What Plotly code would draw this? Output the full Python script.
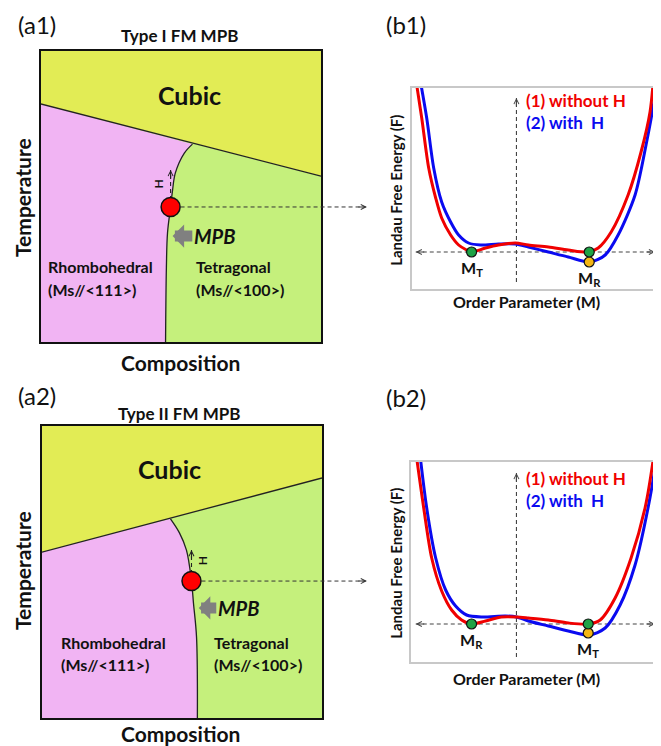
import plotly.graph_objects as go

# The page body has an 8px margin, so the figure is sized to fill the rest of the window
OX, OY = 8, 8
WIN_W, WIN_H = 661, 746
W, H = WIN_W - OX, WIN_H - OY
FONT = "Lato"

# ---------------- data (normalized composition / temperature units) ----------------
# Panel a1 (Type I)
a1_cubic_x = [0.0, 1.0]
a1_cubic_y = [0.818, 0.570]
a1_mpb_x = [0.541, 0.512, 0.480, 0.470, 0.463, 0.452, 0.448, 0.445]
a1_mpb_y = [0.680, 0.649, 0.581, 0.522, 0.464, 0.375, 0.258, 0.0]
a1_point = (0.463, 0.464)
a1_h_top = 0.591

# Panel a2 (Type II)
a2_cubic_x = [0.0, 1.0]
a2_cubic_y = [0.568, 0.822]
a2_mpb_x = [0.459, 0.491, 0.516, 0.534, 0.541, 0.552, 0.555]
a2_mpb_y = [0.682, 0.634, 0.575, 0.469, 0.394, 0.277, 0.0]
a2_point = (0.534, 0.469)
a2_h_top = 0.575

# Panel b1 free energy curves (order parameter M, free energy F)
b1_red_M = [-1.02, -0.95, -0.88, -0.81, -0.75, -0.66, -0.58, -0.50, -0.45, -0.31, -0.18, -0.01,
            0.12, 0.32, 0.52, 0.72, 0.82, 0.95, 1.12, 1.25, 1.34, 1.38]
b1_red_F = [1.80, 1.34, 0.84, 0.54, 0.34, 0.17, 0.07, 0.02, 0.0, 0.04, 0.07, 0.09,
            0.07, 0.05, 0.02, 0.0, 0.04, 0.20, 0.57, 1.00, 1.40, 1.80]
b1_blue_M = [-0.98, -0.90, -0.83, -0.75, -0.66, -0.58, -0.48, -0.36, -0.18, -0.01,
             0.12, 0.32, 0.52, 0.74, 0.89, 1.02, 1.19, 1.30, 1.39, 1.41]
b1_blue_F = [1.80, 1.34, 0.84, 0.50, 0.30, 0.17, 0.09, 0.07, 0.08, 0.08,
             0.05, 0.0, -0.05, -0.10, -0.03, 0.17, 0.57, 1.07, 1.57, 1.80]
b1_green_M = [-0.45, 0.73]
b1_green_F = [0.0, 0.0]
b1_yellow_M = [0.73]
b1_yellow_F = [-0.10]
b1_min_labels = ["M<sub>T</sub>", "M<sub>R</sub>"]

# Panel b2
b2_red_M = [-1.02, -0.93, -0.85, -0.75, -0.65, -0.55, -0.45, -0.31, -0.15, 0.0,
            0.12, 0.32, 0.52, 0.72, 0.84, 0.99, 1.15, 1.29, 1.37, 1.39]
b2_red_F = [1.80, 1.16, 0.66, 0.33, 0.14, 0.04, 0.0, 0.03, 0.07, 0.07,
            0.06, 0.04, 0.01, 0.0, 0.04, 0.26, 0.66, 1.16, 1.63, 1.80]
b2_blue_M = [-0.98, -0.90, -0.81, -0.71, -0.61, -0.50, -0.35, -0.11, 0.0,
             0.12, 0.32, 0.52, 0.73, 0.89, 1.04, 1.19, 1.32, 1.40, 1.42]
b2_blue_F = [1.80, 1.16, 0.66, 0.34, 0.18, 0.09, 0.07, 0.08, 0.07,
             0.03, -0.02, -0.07, -0.11, -0.04, 0.19, 0.59, 1.16, 1.63, 1.80]
b2_green_M = [-0.45, 0.72]
b2_green_F = [0.0, 0.0]
b2_yellow_M = [0.72]
b2_yellow_F = [-0.09]
b2_min_labels = ["M<sub>R</sub>", "M<sub>T</sub>"]

# ---------------- styling ----------------
C_CUBIC = "#E2EC55"
C_RHOMB = "#F1B4F3"
C_TETRA = "#C5F07C"
C_RED = "#F00000"
C_BLUE = "#0A0AF0"
C_GREEN = "#1FA245"
C_YELLOW = "#F4B514"
DASH = "4px,3px"
DASH_COLOR = "#444444"


def pdom(p0, p1, horizontal=True):
    if horizontal:
        return [(p0 - OX) / W, min(1.0, (p1 - OX) / W)]
    return [1 - (p1 - OY) / H, 1 - (p0 - OY) / H]


def P(px, py):
    return (px - OX) / W, 1 - (py - OY) / H


def d2p(v, rng, dom):
    return dom[0] + (v - rng[0]) / (rng[1] - rng[0]) * (dom[1] - dom[0])


A1 = dict(dx=pdom(41, 322), dy=pdom(51, 342, False), rx=[0, 1], ry=[0, 1])
A2 = dict(dx=pdom(42, 323), dy=pdom(426, 718, False), rx=[0, 1], ry=[0, 1])
B1 = dict(dx=pdom(413, 661), dy=pdom(88, 289, False), rx=[-1.05, 1.43], ry=[-0.37, 1.64])
B2 = dict(dx=pdom(412, 661), dy=pdom(462, 662, False), rx=[-1.06, 1.43], ry=[-0.38, 1.62])

fig = go.Figure()
annotations = []
shapes = []


def phase_panel(xa, ya, cub_x, cub_y, mpb_x, mpb_y, point, h_top, dom):
    # tetragonal (lower region), then rhombohedral over it, then cubic
    fig.add_trace(go.Scatter(x=[cub_x[0], cub_x[0], cub_x[1], cub_x[1]],
                             y=[0, cub_y[0], cub_y[1], 0], fill="toself",
                             fillcolor=C_TETRA, line=dict(width=0), mode="lines",
                             xaxis=xa, yaxis=ya, hoverinfo="skip"))
    fig.add_trace(go.Scatter(x=[cub_x[0], cub_x[0]] + mpb_x, y=[0, cub_y[0]] + mpb_y,
                             fill="toself", fillcolor=C_RHOMB, line=dict(width=0),
                             mode="lines", xaxis=xa, yaxis=ya, hoverinfo="skip"))
    fig.add_trace(go.Scatter(x=[cub_x[0], cub_x[1], cub_x[1], cub_x[0]],
                             y=[cub_y[0], cub_y[1], 1, 1], fill="toself",
                             fillcolor=C_CUBIC, line=dict(width=0), mode="lines",
                             xaxis=xa, yaxis=ya, hoverinfo="skip"))
    fig.add_trace(go.Scatter(x=cub_x, y=cub_y, mode="lines",
                             line=dict(color="#222", width=1.3), xaxis=xa, yaxis=ya))
    fig.add_trace(go.Scatter(x=mpb_x, y=mpb_y, mode="lines",
                             line=dict(color="#222", width=1.3, shape="spline"),
                             xaxis=xa, yaxis=ya))
    # H field arrow (dashed)
    fig.add_trace(go.Scatter(x=[point[0], point[0]], y=[point[1], h_top], mode="lines",
                             line=dict(color="#222", width=1.1, dash=DASH),
                             xaxis=xa, yaxis=ya))
    fig.add_trace(go.Scatter(x=[point[0]], y=[point[1]], mode="markers",
                             marker=dict(size=19, color="#FF0000",
                                         line=dict(color="#111", width=1.5)),
                             xaxis=xa, yaxis=ya))
    annotations.append(dict(x=point[0], y=h_top, xref=xa, yref=ya, ax=0, ay=10,
                            text="", showarrow=True, arrowhead=5, arrowsize=0.9,
                            arrowwidth=1.1, arrowcolor="#222", standoff=0))
    # connector to free-energy panel
    cx = d2p(point[0], dom["rx"], dom["dx"])
    cy = d2p(point[1], dom["ry"], dom["dy"])
    tip_x = (368 - OX) / W
    shapes.append(dict(type="line", xref="paper", yref="paper", x0=cx + 10 / W,
                       x1=tip_x - 1 / W, y0=cy, y1=cy,
                       line=dict(color="#333", width=1, dash=DASH)))
    annotations.append(dict(x=tip_x, y=cy, xref="paper", yref="paper", ax=-10, ay=0,
                            text="", showarrow=True, arrowhead=5, arrowsize=0.9,
                            arrowwidth=1.1, arrowcolor="#333", standoff=0))


def energy_panel(xa, ya, red_M, red_F, blue_M, blue_F, g_M, g_F, y_M, y_F, labels,
                 dom, vbot, vtop, hleft, hright):
    fig.add_trace(go.Scatter(x=[0, 0], y=[vbot, vtop], mode="lines",
                             line=dict(color=DASH_COLOR, width=1.1, dash=DASH),
                             xaxis=xa, yaxis=ya))
    fig.add_trace(go.Scatter(x=[hleft, hright], y=[0, 0], mode="lines",
                             line=dict(color=DASH_COLOR, width=1.1, dash=DASH),
                             xaxis=xa, yaxis=ya))
    fig.add_trace(go.Scatter(x=blue_M, y=blue_F, mode="lines",
                             line=dict(color=C_BLUE, width=3, shape="spline",
                                       smoothing=0.8),
                             xaxis=xa, yaxis=ya))
    fig.add_trace(go.Scatter(x=red_M, y=red_F, mode="lines",
                             line=dict(color=C_RED, width=3, shape="spline",
                                       smoothing=0.8),
                             xaxis=xa, yaxis=ya))
    fig.add_trace(go.Scatter(x=y_M, y=y_F, mode="markers",
                             marker=dict(size=10, color=C_YELLOW,
                                         line=dict(color="#111", width=1.2)),
                             xaxis=xa, yaxis=ya))
    fig.add_trace(go.Scatter(x=g_M, y=g_F, mode="markers",
                             marker=dict(size=10, color=C_GREEN,
                                         line=dict(color="#111", width=1.2)),
                             xaxis=xa, yaxis=ya))
    for ax_, ay_, xx, yy in [(0, 10, 0, vtop), (-10, 0, hright, 0), (10, 0, hleft, 0)]:
        annotations.append(dict(x=xx, y=yy, xref=xa, yref=ya, ax=ax_, ay=ay_, text="",
                                showarrow=True, arrowhead=5, arrowsize=0.9,
                                arrowwidth=1.1, arrowcolor=DASH_COLOR, standoff=0))
    # minimum labels
    annotations.append(dict(x=g_M[0], y=g_F[0], xref=xa, yref=ya, yshift=-16,
                            text="<b>" + labels[0] + "</b>", showarrow=False,
                            font=dict(size=16, color="#111", family=FONT)))
    annotations.append(dict(x=y_M[0], y=y_F[0], xref=xa, yref=ya, yshift=-16,
                            text="<b>" + labels[1] + "</b>", showarrow=False,
                            font=dict(size=16, color="#111", family=FONT)))


phase_panel("x", "y", a1_cubic_x, a1_cubic_y, a1_mpb_x, a1_mpb_y, a1_point, a1_h_top, A1)
energy_panel("x2", "y2", b1_red_M, b1_red_F, b1_blue_M, b1_blue_F, b1_green_M,
             b1_green_F, b1_yellow_M, b1_yellow_F, b1_min_labels, B1,
             -0.30, 1.54, -1.01, 1.39)
phase_panel("x3", "y3", a2_cubic_x, a2_cubic_y, a2_mpb_x, a2_mpb_y, a2_point, a2_h_top, A2)
energy_panel("x4", "y4", b2_red_M, b2_red_F, b2_blue_M, b2_blue_F, b2_green_M,
             b2_green_F, b2_yellow_M, b2_yellow_F, b2_min_labels, B2,
             -0.33, 1.51, -1.01, 1.39)


def txt(px, py, text, size, angle=0, xanchor="center", color="#111", bold=True, pad=1):
    x, y = P(px, py)
    t = f"<b>{text}</b>" if bold else text
    annotations.append(dict(x=x, y=y, xref="paper", yref="paper", text=t,
                            showarrow=False, textangle=angle, xanchor=xanchor,
                            yanchor="middle", align="left", borderpad=pad,
                            font=dict(size=size, color=color, family=FONT)))


def dtxt(xa, ya, x, y, text, size, xanchor="center", angle=0):
    annotations.append(dict(x=x, y=y, xref=xa, yref=ya, text=f"<b>{text}</b>",
                            showarrow=False, xanchor=xanchor, textangle=angle,
                            font=dict(size=size, color="#111", family=FONT)))


LEGEND_TEXT = (f"<span style='color:{C_RED}'>(1) without H</span><br>"
               f"<span style='color:{C_BLUE}'>(2) with&nbsp; H</span>")

# panel a1 texts
txt(37, 25, "(a1)", 24, bold=False)
txt(180, 35, "Type I FM MPB", 17)
txt(22, 197, "Temperature", 21, angle=-90, pad=0)
txt(181, 362, "Composition", 21)
dtxt("x", "y", 0.530, 0.849, "Cubic", 25)
dtxt("x", "y", 0.018, 0.258, "Rhombohedral", 16, "left")
dtxt("x", "y", 0.018, 0.179, "(Ms//&lt;111&gt;)", 16, "left")
dtxt("x", "y", 0.548, 0.258, "Tetragonal", 16, "left")
dtxt("x", "y", 0.548, 0.179, "(Ms//&lt;100&gt;)", 16, "left")
dtxt("x", "y", 0.423, 0.543, "H", 12, angle=-90)
annotations.append(dict(x=0.470, y=0.364, xref="x", yref="y", ax=0.619, ay=0.364,
                        axref="x", ayref="y", text="<b><i>MPB</i></b>", showarrow=True,
                        arrowhead=1, arrowwidth=11, arrowsize=0.35, arrowcolor="#808080",
                        standoff=0, font=dict(size=20, color="#111", family=FONT)))

# panel a2 texts
txt(37, 395, "(a2)", 24, bold=False)
txt(180, 413, "Type II FM MPB", 17)
txt(22, 570, "Temperature", 21, angle=-90, pad=0)
txt(181, 733, "Composition", 21)
dtxt("x3", "y3", 0.456, 0.853, "Cubic", 25)
dtxt("x3", "y3", 0.060, 0.257, "Rhombohedral", 16, "left")
dtxt("x3", "y3", 0.060, 0.182, "(Ms//&lt;111&gt;)", 16, "left")
dtxt("x3", "y3", 0.609, 0.257, "Tetragonal", 16, "left")
dtxt("x3", "y3", 0.609, 0.182, "(Ms//&lt;100&gt;)", 16, "left")
dtxt("x3", "y3", 0.573, 0.538, "H", 12, angle=-90)
annotations.append(dict(x=0.560, y=0.377, xref="x3", yref="y3", ax=0.701, ay=0.377,
                        axref="x3", ayref="y3", text="<b><i>MPB</i></b>", showarrow=True,
                        arrowhead=1, arrowwidth=11, arrowsize=0.35, arrowcolor="#808080",
                        standoff=0, font=dict(size=20, color="#111", family=FONT)))

# panel b1 texts
txt(407, 25, "(b1)", 24, bold=False)
txt(397, 190, "Landau Free Energy (F)", 15, angle=-90)
txt(528, 301, "Order Parameter (M)", 16)
txt(526, 112, LEGEND_TEXT, 17, xanchor="left")

# panel b2 texts
txt(407, 397, "(b2)", 24, bold=False)
txt(397, 563, "Landau Free Energy (F)", 15, angle=-90)
txt(528, 678, "Order Parameter (M)", 16)
txt(526, 489, LEGEND_TEXT, 17, xanchor="left")


def axis(dom, key, line_color, line_width):
    return dict(domain=dom, range=key, showgrid=False, zeroline=False,
                showticklabels=False, ticks="", showline=True, mirror=True,
                linecolor=line_color, linewidth=line_width, fixedrange=True)


layout = dict(width=W, height=H, margin=dict(l=0, r=0, t=0, b=0),
              paper_bgcolor="white", plot_bgcolor="white", showlegend=False,
              annotations=annotations, shapes=shapes)
for i, (d, lc, lw) in enumerate([(A1, "#111", 1.6), (B1, "#C8C8C8", 1.5),
                                 (A2, "#111", 1.6), (B2, "#C8C8C8", 1.5)]):
    suf = "" if i == 0 else str(i + 1)
    xa = axis(d["dx"], d["rx"], lc, lw)
    ya = axis(d["dy"], d["ry"], lc, lw)
    xa["anchor"] = "y" + suf
    ya["anchor"] = "x" + suf
    layout["xaxis" + suf] = xa
    layout["yaxis" + suf] = ya

fig.update_layout(**layout)
fig.write_html("out.html")
